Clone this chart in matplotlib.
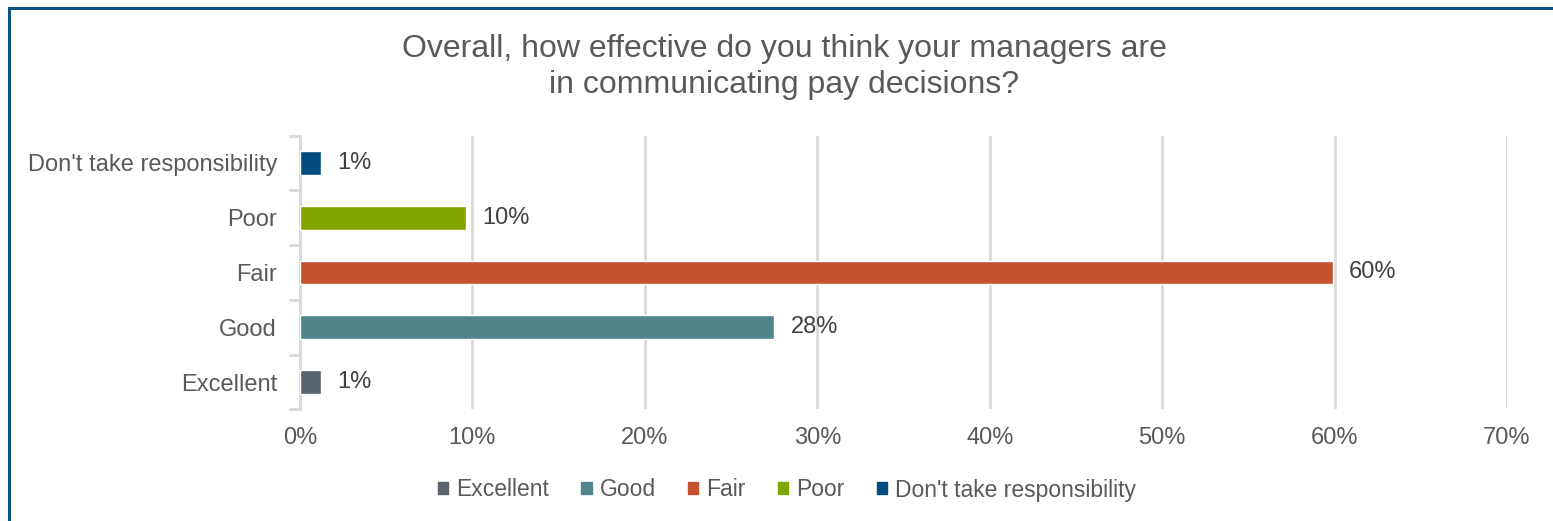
import numpy as np
import matplotlib
matplotlib.use("Agg")
import matplotlib.pyplot as plt
from matplotlib.patches import Rectangle

plt.rcParams['font.family'] = ['Liberation Sans', 'DejaVu Sans']

# data
categories = ["Excellent", "Good", "Fair", "Poor", "Don't take responsibility"]
values = [1.2, 27.5, 59.9, 9.6, 1.2]
colors = ["#59646e", "#50858c", "#c45231", "#82a400", "#034c80"]
xticks = [0, 10, 20, 30, 40, 50, 60, 70]

fig = plt.figure(figsize=(15.53, 5.21), dpi=100)
ax = fig.add_axes([300/1553, 1-409.4/521, 1207/1553, 273.8/521])

# outer frame (runs off right and bottom like the original screenshot)
fig.patches.append(Rectangle((9/1553, -0.1), 1.2, 1-8/521+0.1, transform=fig.transFigure,
                             fill=False, edgecolor="#0d5285", linewidth=2.2))

y = np.arange(len(categories))
bars = ax.barh(y, values, height=0.43, color=colors, edgecolor="white", linewidth=1.0, zorder=3)

for yi, v in zip(y, values):
    ax.text(v + 0.95, yi, "%d%%" % round(v), va="center", ha="left",
            fontsize=17, color="#404040", zorder=4)

ax.set_xlim(0, 70)
ax.set_ylim(-0.5, 4.5)
ax.set_xticks(xticks)
ax.set_xticklabels(["%d%%" % t for t in xticks], fontsize=17, color="#595959")
ax.set_yticks(y)
ax.set_yticklabels(categories, fontsize=17, color="#595959")
ax.tick_params(axis="x", length=0, pad=13)
ax.tick_params(axis="y", length=0, pad=16.5)

# small ticks between categories on the y axis
for b in np.arange(-0.5, 5, 1):
    ax.plot([-0.6, 0], [b, b], color="#d9d9d9", linewidth=2, clip_on=False, zorder=2)

ax.grid(axis="x", color="#d9d9d9", linewidth=2, zorder=0)
ax.set_axisbelow(True)
for s in ["top", "right", "bottom"]:
    ax.spines[s].set_visible(False)
ax.spines["left"].set_color("#d9d9d9")
ax.spines["left"].set_linewidth(2)

fig.text(784/1553, 1-67/521, "Overall, how effective do you think your managers are\nin communicating pay decisions?",
         ha="center", va="center", fontsize=23, color="#595959", linespacing=1.3)

handles = [Rectangle((0, 0), 1, 1, color=c) for c in colors]
fig.legend(handles, categories, loc="center", bbox_to_anchor=(787/1553, 1-490/521), ncol=5,
           frameon=False, fontsize=16.5, labelcolor="#595959", handlelength=0.45, handleheight=0.45,
           handletextpad=0.35, columnspacing=1.4)

fig.savefig("out.png", dpi=100)
